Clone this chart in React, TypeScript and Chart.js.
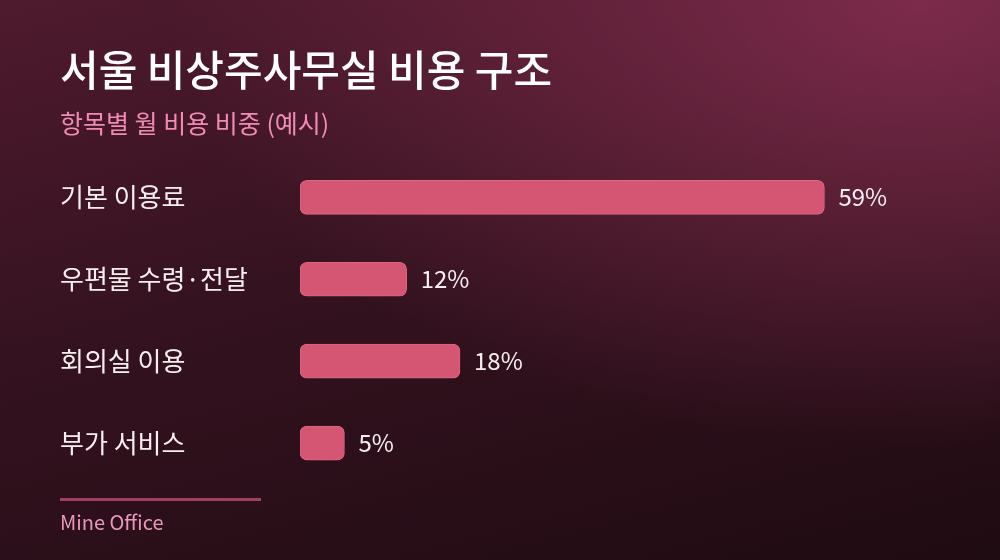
import React, { useEffect, useRef } from 'react';
import { Chart, registerables, Plugin } from 'chart.js';

Chart.register(...registerables);

const categories = ['기본 이용료', '우편물 수령·전달', '회의실 이용', '부가 서비스'];
const shares = [59, 12, 18, 5];
const titleText = '서울 비상주사무실 비용 구조';
const subtitleText = '항목별 월 비용 비중 (예시)';
const sourceText = 'Mine Office';

const FONT = "'Noto Sans CJK KR', 'Noto Sans', sans-serif";

// percent labels drawn just right of each bar
const valueLabels: Plugin<'bar'> = {
  id: 'valueLabels',
  afterDatasetsDraw(chart) {
    const { ctx } = chart;
    const meta = chart.getDatasetMeta(0);
    ctx.save();
    ctx.font = `24px ${FONT}`;
    ctx.fillStyle = '#f6eef1';
    ctx.textAlign = 'left';
    ctx.textBaseline = 'middle';
    meta.data.forEach((bar: any, i) => {
      ctx.fillText(`${shares[i]}%`, bar.x + 14, bar.y);
    });
    ctx.restore();
  },
};

const App: React.FC = () => {
  const canvasRef = useRef<HTMLCanvasElement>(null);

  useEffect(() => {
    if (!canvasRef.current) return;
    const chart = new Chart(canvasRef.current, {
      type: 'bar',
      data: {
        labels: categories,
        datasets: [
          {
            data: shares,
            backgroundColor: '#d45672',
            borderColor: '#df6680',
            borderWidth: 1,
            borderRadius: 7,
            borderSkipped: false,
            barThickness: 34,
          },
        ],
      },
      options: {
        indexAxis: 'y',
        animation: false,
        responsive: false,
        layout: { padding: { left: 60, right: 60, top: 0, bottom: 76 } },
        plugins: {
          legend: { display: false },
          tooltip: { enabled: false },
          title: {
            display: true,
            text: titleText,
            align: 'start',
            color: '#ffffff',
            font: { family: FONT, size: 42, weight: '500' },
            padding: { top: 45, bottom: 6 },
          },
          subtitle: {
            display: true,
            text: subtitleText,
            align: 'start',
            color: '#f08cb4',
            font: { family: FONT, size: 25 },
            padding: { top: 7, bottom: 18 },
          },
        },
        scales: {
          x: {
            display: false,
            min: 0,
            max: 72,
          },
          y: {
            grid: { display: false },
            border: { display: false },
            ticks: {
              crossAlign: 'far',
              color: '#f6eef1',
              font: { family: FONT, size: 26 },
            },
            afterFit: (scale: any) => {
              scale.width = 240;
            },
          },
        },
      },
      plugins: [valueLabels],
    });
    return () => chart.destroy();
  }, []);

  return (
    <div
      style={{
        position: 'absolute',
        left: 0,
        top: 0,
        width: 1000,
        height: 560,
        overflow: 'hidden',
        background:
          'radial-gradient(ellipse 75% 80% at 92% 0%, rgba(128,44,76,0.95) 0%, rgba(128,44,76,0) 100%), linear-gradient(165deg, #4f1a2e 0%, #34121f 45%, #1f0b12 100%)',
      }}
    >
      <canvas ref={canvasRef} width={1000} height={560} style={{ display: 'block' }} />
      <div
        style={{
          position: 'absolute',
          left: 60,
          top: 498,
          width: 201,
          height: 3,
          background: '#a3405f',
        }}
      />
      <div
        style={{
          position: 'absolute',
          left: 60,
          top: 508,
          fontFamily: FONT,
          fontSize: 20,
          color: '#e897bd',
          lineHeight: '28px',
        }}
      >
        {sourceText}
      </div>
    </div>
  );
};

export default App;
